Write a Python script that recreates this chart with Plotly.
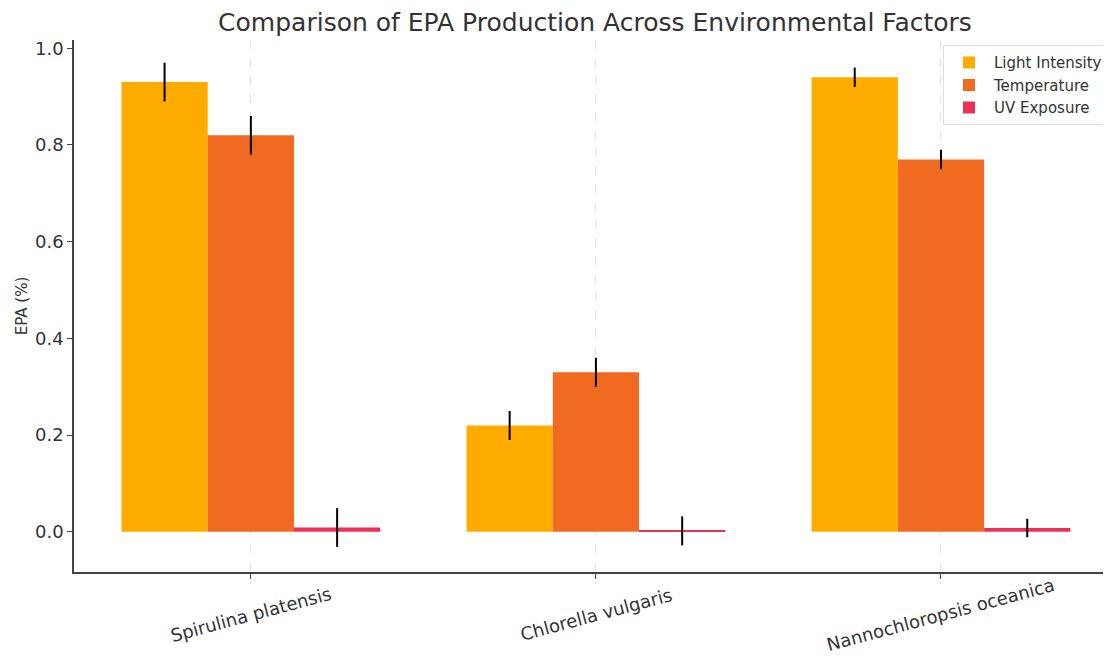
import plotly.graph_objects as go

species = ["Spirulina platensis", "Chlorella vulgaris", "Nannochloropsis oceanica"]
factors = ["Light Intensity", "Temperature", "UV Exposure"]
light = [0.93, 0.22, 0.94]
light_err = [0.04, 0.03, 0.02]
temp = [0.82, 0.33, 0.77]
temp_err = [0.04, 0.03, 0.02]
uv = [0.009, 0.002, 0.008]
uv_err = [0.04, 0.03, 0.019]

colors = ["#FFAB00", "#F06A22", "#EC3058"]
values = [light, temp, uv]
errors = [light_err, temp_err, uv_err]

fig = go.Figure()
for name, vals, errs, c in zip(factors, values, errors, colors):
    fig.add_trace(go.Bar(
        x=list(range(len(species))), y=vals, name=name,
        marker=dict(color=c, line=dict(width=0)),
        error_y=dict(type="data", array=errs, visible=True, color="black",
                     thickness=2, width=0),
    ))

# category labels, rotated and centred under each tick
for i, s in enumerate(species):
    fig.add_annotation(x=i, xref="x", y=0, yref="paper", text=s, showarrow=False,
                       textangle=-15, xanchor="center", yanchor="middle", yshift=-42,
                       font=dict(size=18, color="#333333"))

W, H = 1103, 652
fig.update_layout(
    width=W, height=H,
    margin=dict(l=66, r=3, t=32, b=88, autoexpand=False),
    paper_bgcolor="white", plot_bgcolor="white",
    font=dict(family="DejaVu Sans", color="#333333"),
    title=dict(text="Comparison of EPA Production Across Environmental Factors",
               xref="container", x=587 / W, xanchor="center",
               y=1 - 14 / H, yanchor="middle",
               font=dict(size=25, color="#333333")),
    barmode="group", bargap=0.25, bargroupgap=0,
    showlegend=True,
    legend=dict(x=1.0, y=0.99, xanchor="right", yanchor="top",
                bgcolor="rgba(255,255,255,0.85)", bordercolor="#DDDDDD", borderwidth=1,
                font=dict(size=15, color="#333333"), traceorder="normal",
                itemwidth=40),
    xaxis=dict(range=[-0.5125, 2.484], tickmode="array",
               tickvals=list(range(len(species))), showticklabels=False,
               showgrid=True, gridcolor="#E2E2E2", griddash="dash", gridwidth=1,
               showline=True, linecolor="#444444", linewidth=1.5,
               ticks="outside", ticklen=5, tickcolor="#444444",
               zeroline=False, mirror=False, automargin=False),
    yaxis=dict(range=[-0.083, 1.017], tickmode="array",
               tickvals=[0, 0.2, 0.4, 0.6, 0.8, 1.0],
               ticktext=["0.0", "0.2", "0.4", "0.6", "0.8", "1.0"],
               tickfont=dict(size=18, color="#333333"),
               title=dict(text="EPA (%)", font=dict(size=15, color="#333333"), standoff=4),
               showgrid=False, showline=True, linecolor="#444444", linewidth=1.5,
               ticks="outside", ticklen=5, tickcolor="#444444",
               zeroline=False, automargin=False),
)

fig.write_html("out.html")
